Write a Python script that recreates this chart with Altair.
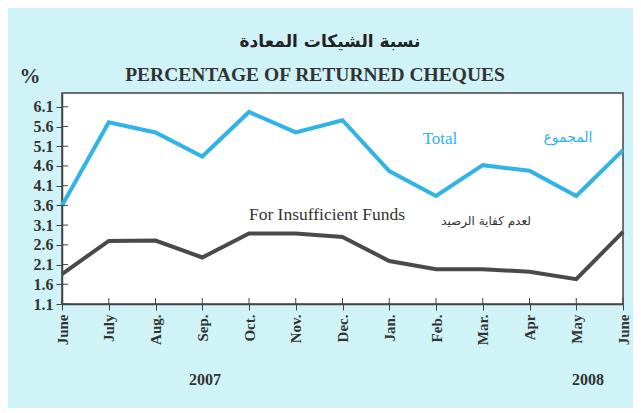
import altair as alt
import pandas as pd

months = ["June", "July", "Aug.", "Sep.", "Oct.", "Nov.", "Dec.",
          "Jan.", "Feb.", "Mar.", "Apr", "May", "June"]
total = [3.60, 5.71, 5.45, 4.84, 5.97, 5.45, 5.76, 4.47, 3.84, 4.62, 4.48, 3.84, 5.00]
insufficient = [1.86, 2.70, 2.71, 2.28, 2.89, 2.89, 2.80, 2.19, 1.98, 1.98, 1.92, 1.73, 2.93]
y_ticks = [1.1, 1.6, 2.1, 2.6, 3.1, 3.6, 4.1, 4.6, 5.1, 5.6, 6.1]

BLUE = "#2fb4e6"
DARK = "#4a4a4a"
SERIF = "Liberation Serif, serif"
AR = "DejaVu Sans"

idx = list(range(len(months)))
df = pd.DataFrame({"i": idx * 2,
                   "v": total + insufficient,
                   "s": ["Total"] * len(idx) + ["Insufficient"] * len(idx)})

label_expr = "[" + ",".join("'%s'" % m for m in months) + "][datum.value]"

x_scale = alt.Scale(domain=[0, 12], nice=False, zero=False)
y_scale = alt.Scale(domain=[1.1, 6.45], nice=False, zero=False)
x_axis = alt.Axis(values=idx, labelExpr=label_expr, labelAngle=270,
                  labelAlign="right", labelBaseline="middle",
                  labelFont=SERIF, labelFontWeight="bold", labelFontSize=15,
                  labelColor="#333", tickColor="#444", tickSize=6,
                  domainColor="#444", domainWidth=1.5, grid=False,
                  labelOverlap=False, title=None, labelPadding=4)
y_axis = alt.Axis(values=y_ticks, format=".1f", labelFont=SERIF,
                  labelFontWeight="bold", labelFontSize=16, labelColor="#333",
                  tickColor="#444", tickSize=6, domainColor="#444",
                  labelOverlap=False, labelBound=False,
                  domainWidth=1.5, grid=False, title=None, labelPadding=3)

lines = alt.Chart(df).mark_line(strokeWidth=4, strokeJoin="miter").encode(
    x=alt.X("i:Q", scale=x_scale, axis=x_axis),
    y=alt.Y("v:Q", scale=y_scale, axis=y_axis),
    color=alt.Color("s:N", scale=alt.Scale(domain=["Total", "Insufficient"],
                                           range=[BLUE, DARK]), legend=None),
    detail="s:N")

# inner halves of the crossing ticks
ytk = alt.Chart(pd.DataFrame({"t": y_ticks})).mark_rule(color="#444", strokeWidth=1).encode(
    y=alt.Y("t:Q", scale=y_scale, axis=y_axis),
    x=alt.value(0), x2=alt.value(6))
xtk = alt.Chart(pd.DataFrame({"t": idx})).mark_rule(color="#444", strokeWidth=1).encode(
    x=alt.X("t:Q", scale=x_scale, axis=x_axis),
    y=alt.value(211), y2=alt.value(205))

def txt(s, px, py, size, color="#333", font=SERIF, weight="normal"):
    return alt.Chart(pd.DataFrame({"t": [s]})).mark_text(
        fontSize=size, font=font, fontWeight=weight, color=color,
        align="center", baseline="middle").encode(
        text="t:N", x=alt.value(px), y=alt.value(py))

texts = [
    txt("نسبة الشيكات المعادة", 268, -51, 17, "#222", AR, "bold"),
    txt("PERCENTAGE OF RETURNED CHEQUES", 253, -18, 19.5, "#333", SERIF, "bold"),
    txt("%", -32, -16, 21, "#333", SERIF, "bold"),
    txt("Total", 378, 46, 17, BLUE, SERIF),
    txt("المجموع", 506, 45, 14, BLUE, AR),
    txt("For Insufficient Funds", 265, 122, 17.5, "#333", SERIF),
    txt("لعدم كفاية الرصيد", 424, 128, 12, "#333", AR),
    txt("2007", 143, 287, 16, "#333", SERIF, "bold"),
    txt("2008", 526, 287, 16, "#333", SERIF, "bold"),
]

chart = alt.layer(lines, ytk, xtk, *texts).properties(
    width=561, height=211,
    autosize=alt.AutoSizeParams(type="none"),
    padding={"left": 54, "top": 85, "right": 10, "bottom": 104},
    background="#cff3f7",
).configure_view(fill="white", stroke="#444", strokeWidth=1.5)

chart.save("out.html", embed_options={"renderer": "svg", "actions": False})
